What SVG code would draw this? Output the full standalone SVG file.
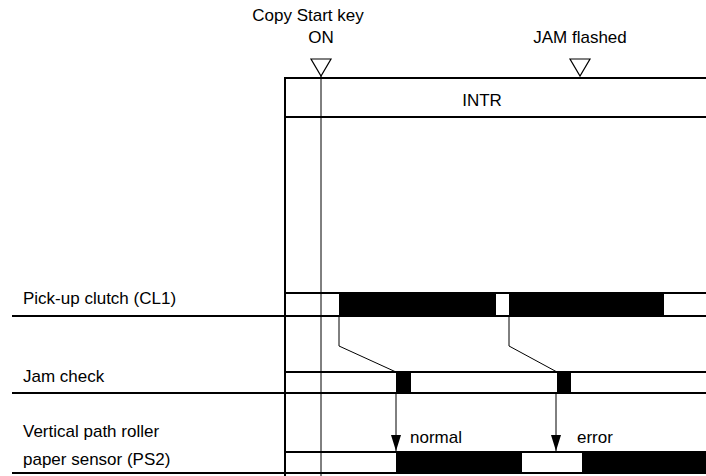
<svg xmlns="http://www.w3.org/2000/svg" width="706" height="476" viewBox="0 0 706 476">
<defs>
<style>
text{font-family:"Liberation Sans",Arial,sans-serif;font-size:17px;fill:#000}
.mid{text-anchor:middle}
.thick{stroke:#000;stroke-width:2;fill:none}
.thin{stroke:#000;stroke-width:1;fill:none}
.bar{fill:#000}
.tri{fill:#fff;stroke:#000;stroke-width:1.2}
</style>
<marker id="ah" viewBox="0 0 16 10" refX="16" refY="5" markerWidth="16" markerHeight="10" markerUnits="userSpaceOnUse" orient="auto">
<path d="M0,0 L16,5 L0,10 Z" fill="#000"/>
</marker>
</defs>
<rect width="706" height="476" fill="#fff"/>
<g id="frame">
<line class="thick" x1="285" y1="78" x2="706" y2="78"/>
<line class="thick" x1="285" y1="117" x2="706" y2="117"/>
<line class="thick" x1="285" y1="77" x2="285" y2="476"/>
<text class="mid" x="482" y="106">INTR</text>
</g>
<g id="copy-start">
<text class="mid" x="308" y="21">Copy Start key</text>
<text class="mid" x="321" y="43">ON</text>
<polygon class="tri" points="311,59 331,59 321,76"/>
<line class="thin" x1="321" y1="76" x2="321" y2="476"/>
</g>
<g id="jam-flashed">
<text class="mid" x="580" y="43">JAM flashed</text>
<polygon class="tri" points="570,59 590,59 580,76"/>
</g>
<g id="pickup-clutch">
<text x="23" y="304">Pick-up clutch (CL1)</text>
<line class="thick" x1="285" y1="293" x2="706" y2="293"/>
<line class="thick" x1="12" y1="316" x2="706" y2="316"/>
<rect class="bar" x="339" y="293" width="157" height="23"/>
<rect class="bar" x="509" y="293" width="155" height="23"/>
</g>
<g id="jam-check">
<text x="23" y="382">Jam check</text>
<line class="thick" x1="285" y1="372" x2="706" y2="372"/>
<line class="thick" x1="12" y1="393" x2="706" y2="393"/>
<rect class="bar" x="396" y="372" width="15" height="21"/>
<rect class="bar" x="557" y="372" width="14" height="21"/>
</g>
<g id="ps2">
<text x="23" y="437">Vertical path roller</text>
<text x="23" y="465">paper sensor (PS2)</text>
<line class="thick" x1="285" y1="452" x2="706" y2="452"/>
<line class="thick" x1="12" y1="473" x2="706" y2="473"/>
<rect class="bar" x="396" y="452" width="126" height="21"/>
<rect class="bar" x="582" y="452" width="124" height="21"/>
</g>
<g id="connectors">
<polyline class="thin" points="339,316 339,346 396,372"/>
<polyline class="thin" points="509,316 509,346 557,372"/>
<line class="thin" x1="396" y1="393" x2="396" y2="451" marker-end="url(#ah)"/>
<line class="thin" x1="556" y1="393" x2="556" y2="451" marker-end="url(#ah)"/>
<text x="410" y="443">normal</text>
<text x="577" y="443">error</text>
</g>
</svg>
